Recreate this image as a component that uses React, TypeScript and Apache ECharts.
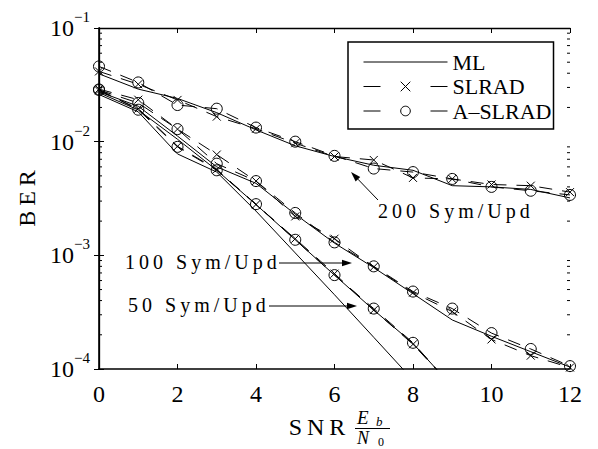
import React, { useEffect, useRef } from 'react';
import * as echarts from 'echarts';

// SNR (Eb/N0) values
const snr = [0, 1, 2, 3, 4, 5, 6, 7, 8, 9, 10, 11, 12];

// 200 Sym/Upd
const ml200 = [0.0395, 0.029, 0.024, 0.018, 0.0127, 0.0092, 0.0074, 0.0062, 0.0056, 0.0041, 0.004, 0.0038, 0.0032];
const slrad200 = [0.0415, 0.032, 0.0233, 0.0166, 0.013, 0.0097, 0.0074, 0.0069, 0.0048, 0.0047, 0.0042, 0.0041, 0.0036];
const aslrad200 = [0.0459, 0.0332, 0.021, 0.0195, 0.0133, 0.01, 0.0075, 0.0058, 0.0054, 0.0047, 0.004, 0.0037, 0.0034];

// 100 Sym/Upd
const ml100 = [0.0275, 0.0205, 0.0112, 0.006, 0.0043, 0.0023, 0.00128, 0.00078, 0.00046, 0.00027, 0.000194, 0.000142, 0.000104];
const slrad100 = [0.029, 0.0234, 0.0129, 0.0077, 0.0045, 0.0022, 0.0014, 0.00079, 0.00047, 0.00032, 0.000182, 0.000131, 0.000103];
const aslrad100 = [0.0285, 0.0219, 0.0129, 0.0064, 0.0045, 0.00236, 0.0013, 0.0008, 0.00048, 0.00034, 0.000207, 0.00015, 0.000106];

// 50 Sym/Upd
const ml50 = [0.027, 0.019, 0.0105, 0.0056, 0.0028, 0.00137, 0.00067, 0.00033, 0.000168, 0.00007];
const slrad50 = [0.0282, 0.0195, 0.0091, 0.0057, 0.0028, 0.0014, 0.00069, 0.00033, 0.000165, 0.00007];
const aslrad50 = [0.0288, 0.0191, 0.009, 0.0056, 0.00282, 0.00137, 0.00067, 0.00034, 0.00017, 0.00007];

// additional solid (ML) curve without markers
const mlRef = [0.026, 0.0183, 0.0078, 0.0054, 0.00245, 0.00105, 0.00045, 0.00019, 0.00008];

// axis tick settings
const xTicks = [0, 2, 4, 6, 8, 10, 12];
const yDecades = [-4, -3, -2, -1];
const minorMultipliers = [2, 3, 4, 5, 6, 7, 8, 9];

const legendNames = ['ML', 'SLRAD', 'A–SLRAD'];
const annotations = ['100 Sym/Upd', '50 Sym/Upd', '200 Sym/Upd'];

const FONT = 'Liberation Serif';
const SP = '\u2009';
const spaced = (s: string) => s.split('').join(SP);

const pair = (ys: number[]) => ys.map((y, i) => [snr[i], y]);

const CROSS = 'path://M0 0L10 10M10 0L0 10';
const DASH = [13, 10];

function mlSeries(data: number[]) {
  return {
    name: legendNames[0],
    type: 'line',
    data: pair(data),
    symbol: 'none',
    lineStyle: { color: '#000', width: 1, type: 'solid' },
    itemStyle: { color: '#000' },
    z: 3,
  };
}
function slradSeries(data: number[]) {
  return {
    name: legendNames[1],
    type: 'line',
    data: pair(data),
    symbol: CROSS,
    symbolSize: 8,
    lineStyle: { color: '#000', width: 1, type: DASH },
    itemStyle: { color: '#000', borderColor: '#000', borderWidth: 1 },
    z: 3,
  };
}
function aslradSeries(data: number[]) {
  return {
    name: legendNames[2],
    type: 'line',
    data: pair(data),
    symbol: 'circle',
    symbolSize: 11,
    lineStyle: { color: '#000', width: 1, type: DASH },
    itemStyle: { color: 'transparent', borderColor: '#000', borderWidth: 1 },
    z: 3,
  };
}

function arrow(x1: number, y1: number, x2: number, y2: number) {
  const head = 10;
  const half = 3.2;
  const a = Math.atan2(y2 - y1, x2 - x1);
  const c = Math.cos(a);
  const s = Math.sin(a);
  const bx = x2 - head * c;
  const by = y2 - head * s;
  const px = -s * half;
  const py = c * half;
  return [
    { type: 'line', shape: { x1, y1, x2: bx, y2: by }, style: { stroke: '#000', lineWidth: 1 } },
    {
      type: 'polygon',
      shape: { points: [[x2, y2], [bx + px, by + py], [bx - px, by - py]] },
      style: { fill: '#000' },
    },
  ];
}

export default function App() {
  const ref = useRef<HTMLDivElement>(null);
  useEffect(() => {
    if (!ref.current) return;
    const chart = echarts.init(ref.current, null, { renderer: 'svg' });

    const minorVals: number[] = [];
    yDecades.slice(0, 3).forEach((d) => minorMultipliers.forEach((m) => minorVals.push(m * Math.pow(10, d))));

    const axisLine = { show: true, lineStyle: { color: '#000', width: 1.6 } };

    const option: any = {
      animation: false,
      backgroundColor: '#fff',
      textStyle: { fontFamily: FONT },
      grid: { left: 99, right: 28, top: 28, bottom: 80, containLabel: false },
      legend: {
        data: [
          { name: legendNames[0], itemStyle: { opacity: 0 } },
          { name: legendNames[1], lineStyle: { type: [17, 50], width: 1 } },
          { name: legendNames[2], lineStyle: { type: [17, 50], width: 1 } },
        ],
        orient: 'vertical',
        left: 348,
        top: 42,
        itemWidth: 84,
        itemHeight: 12,
        itemGap: 0.5,
        padding: [8, 2, 6, 15],
        borderColor: '#000',
        borderWidth: 1.5,
        borderRadius: 0,
        backgroundColor: '#fff',
        lineStyle: { width: 1 },
        itemStyle: { borderWidth: 1 },
        textStyle: { fontFamily: FONT, fontSize: 22, color: '#000', lineHeight: 24 },
        selectedMode: false,
      },
      xAxis: [
        {
          type: 'value',
          min: xTicks[0],
          max: xTicks[xTicks.length - 1],
          interval: 2,
          axisLine,
          axisTick: { show: true, inside: true, length: 5, lineStyle: { color: '#000', width: 1 } },
          axisLabel: { fontFamily: FONT, fontSize: 24, color: '#000', margin: 13 },
          splitLine: { show: false },
        },
        {
          type: 'value',
          position: 'top',
          min: xTicks[0],
          max: xTicks[xTicks.length - 1],
          interval: 2,
          axisLine: { show: true, lineStyle: { color: '#000', width: 1.3 } },
          axisTick: { show: true, inside: true, length: 5, lineStyle: { color: '#000', width: 1 } },
          axisLabel: { show: false },
          splitLine: { show: false },
        },
      ],
      yAxis: [
        {
          type: 'log',
          logBase: 10,
          min: Math.pow(10, yDecades[0]),
          max: Math.pow(10, yDecades[yDecades.length - 1]),
          name: spaced('BER'),
          nameLocation: 'middle',
          nameGap: 60,
          nameTextStyle: { fontFamily: FONT, fontSize: 24, color: '#000' },
          axisLine,
          axisTick: { show: true, inside: true, length: 5, lineStyle: { color: '#000', width: 1 } },
          axisLabel: {
            margin: 9,
            color: '#000',
            formatter: (v: number) => {
              const e = Math.round(Math.log10(v));
              return `{b|10}{s|−${-e}}`;
            },
            rich: {
              b: { fontFamily: FONT, fontSize: 24, color: '#000', lineHeight: 37, verticalAlign: 'middle' },
              s: { fontFamily: FONT, fontSize: 15, color: '#000', verticalAlign: 'top' },
            },
          },
          splitLine: { show: false },
        },
        {
          type: 'log',
          logBase: 10,
          position: 'right',
          min: Math.pow(10, yDecades[0]),
          max: Math.pow(10, yDecades[yDecades.length - 1]),
          axisLine: { show: true, lineStyle: { color: '#000', width: 1.3 } },
          axisTick: { show: true, inside: true, length: 5, lineStyle: { color: '#000', width: 1 } },
          axisLabel: { show: false },
          splitLine: { show: false },
        },
      ],
      series: [
        mlSeries(ml200),
        slradSeries(slrad200),
        aslradSeries(aslrad200),
        mlSeries(ml100),
        slradSeries(slrad100),
        aslradSeries(aslrad100),
        mlSeries(ml50),
        slradSeries(slrad50),
        aslradSeries(aslrad50),
        mlSeries(mlRef),
        {
          type: 'custom',
          silent: true,
          clip: false,
          z: 5,
          data: minorVals.map((v) => [0, v]),
          renderItem: (_p: any, api: any) => {
            const v = api.value(1);
            const l = api.coord([xTicks[0], v]);
            const r = api.coord([xTicks[xTicks.length - 1], v]);
            return {
              type: 'group',
              children: [
                { type: 'line', shape: { x1: l[0], y1: l[1], x2: l[0] + 3, y2: l[1] }, style: { stroke: '#000', lineWidth: 1 } },
                { type: 'line', shape: { x1: r[0] - 3, y1: r[1], x2: r[0], y2: r[1] }, style: { stroke: '#000', lineWidth: 1 } },
              ],
            };
          },
        },
      ],
      graphic: [
        {
          type: 'text',
          x: 125,
          y: 262,
          style: { text: spaced(annotations[0]), fontFamily: FONT, fontSize: 20, fill: '#000', align: 'left', verticalAlign: 'middle' },
        },
        {
          type: 'text',
          x: 128,
          y: 305,
          style: { text: spaced(annotations[1]), fontFamily: FONT, fontSize: 20, fill: '#000', align: 'left', verticalAlign: 'middle' },
        },
        {
          type: 'text',
          x: 378,
          y: 211,
          style: { text: spaced(annotations[2]), fontFamily: FONT, fontSize: 20, fill: '#000', align: 'left', verticalAlign: 'middle' },
        },
        ...arrow(279, 263, 352, 263),
        ...arrow(269, 306, 357, 306),
        ...arrow(378, 200, 351, 172),
        {
          type: 'text',
          x: 317,
          y: 427,
          style: { text: spaced('SNR'), fontFamily: FONT, fontSize: 24, fill: '#000', align: 'center', verticalAlign: 'middle' },
        },
        {
          type: 'text',
          x: 357,
          y: 417,
          style: { text: 'E', fontFamily: FONT, fontStyle: 'italic', fontSize: 19, fill: '#000', align: 'left', verticalAlign: 'middle' },
        },
        {
          type: 'text',
          x: 376,
          y: 421,
          style: { text: 'b', fontFamily: FONT, fontStyle: 'italic', fontSize: 13, fill: '#000', align: 'left', verticalAlign: 'middle' },
        },
        { type: 'line', shape: { x1: 355, y1: 428.5, x2: 390, y2: 428.5 }, style: { stroke: '#000', lineWidth: 1.2 } },
        {
          type: 'text',
          x: 357,
          y: 438,
          style: { text: 'N', fontFamily: FONT, fontStyle: 'italic', fontSize: 18, fill: '#000', align: 'left', verticalAlign: 'middle' },
        },
        {
          type: 'text',
          x: 378,
          y: 442,
          style: { text: '0', fontFamily: FONT, fontSize: 12, fill: '#000', align: 'left', verticalAlign: 'middle' },
        },
      ],
    };
    chart.setOption(option);
    return () => chart.dispose();
  }, []);
  return <div ref={ref} style={{ position: 'fixed', left: 0, top: 0, width: 598, height: 449, background: '#fff' }} />;
}
